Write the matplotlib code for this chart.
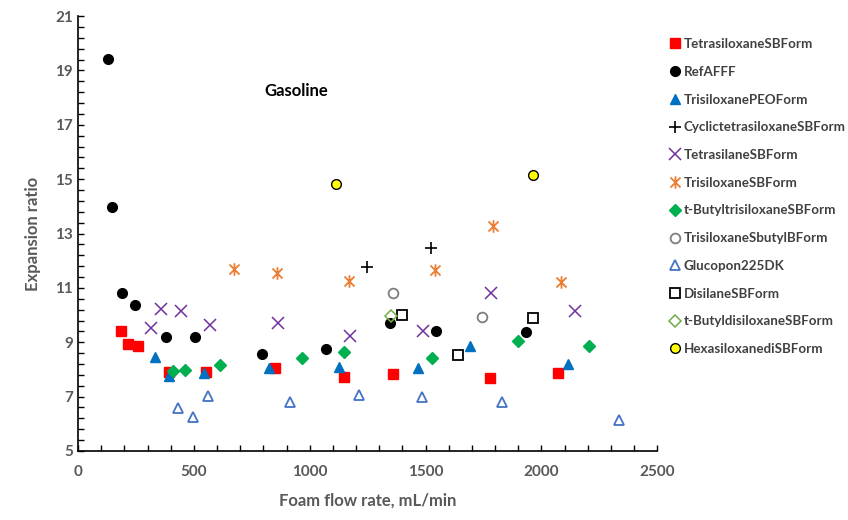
import matplotlib
matplotlib.use("Agg")
import numpy as np
import matplotlib.pyplot as plt
from matplotlib.path import Path
from matplotlib.ticker import MultipleLocator

plt.rcParams['font.family'] = ['Lato', 'DejaVu Sans']

# data
tetrasiloxane_x = [186, 217, 258, 394, 553, 851, 1147, 1361, 1779, 2070]
tetrasiloxane_y = [9.42, 8.92, 8.87, 7.92, 7.89, 8.04, 7.73, 7.82, 7.67, 7.88]
refafff_x = [128, 148, 189, 248, 381, 507, 795, 1069, 1347, 1547, 1934]
refafff_y = [19.41, 13.96, 10.80, 10.38, 9.18, 9.20, 8.55, 8.75, 9.69, 9.41, 9.39]
peo_x = [331, 392, 545, 826, 1127, 1469, 1693, 2113]
peo_y = [8.44, 7.77, 7.88, 8.06, 8.08, 8.05, 8.85, 8.19]
cyclic_x = [1249, 1523]
cyclic_y = [11.78, 12.46]
tetrasilane_x = [317, 360, 443, 570, 862, 1172, 1491, 1782, 2145]
tetrasilane_y = [9.53, 10.21, 10.15, 9.63, 9.69, 9.23, 9.42, 10.83, 10.15]
trisiloxane_x = [675, 858, 1169, 1543, 1792, 2084]
trisiloxane_y = [11.70, 11.53, 11.26, 11.65, 13.26, 11.21]
tbutyltri_x = [409, 463, 613, 967, 1149, 1527, 1899, 2205]
tbutyltri_y = [7.95, 7.99, 8.17, 8.41, 8.63, 8.43, 9.04, 8.86]
sbutyl_x = [1361, 1743]
sbutyl_y = [10.83, 9.94]
glucopon_x = [432, 495, 561, 914, 1213, 1484, 1831, 2333]
glucopon_y = [6.57, 6.26, 7.03, 6.81, 7.06, 7.00, 6.81, 6.13]
disilane_x = [1398, 1641, 1962]
disilane_y = [10.0, 8.52, 9.88]
tbutyldi_x = [1351]
tbutyldi_y = [9.97]
hexa_x = [1115, 1966]
hexa_y = [14.83, 15.17]

y_ticks = [5, 7, 9, 11, 13, 15, 17, 19, 21]

# x with a vertical stroke, like Excel's star marker
star_mark = Path([(0, -1), (0, 1), (-0.8, -0.8), (0.8, 0.8), (-0.8, 0.8), (0.8, -0.8)],
                 [Path.MOVETO, Path.LINETO] * 3)

series = [
    ("TetrasiloxaneSBForm", tetrasiloxane_x, tetrasiloxane_y, dict(marker='s', color='#ff0000', mec='#ff0000')),
    ("RefAFFF", refafff_x, refafff_y, dict(marker='o', color='black', mec='black')),
    ("TrisiloxanePEOForm", peo_x, peo_y, dict(marker='^', color='#0070c0', mec='#0070c0')),
    ("CyclictetrasiloxaneSBForm", cyclic_x, cyclic_y, dict(marker='+', color='black', mew=1.2, ms=9)),
    ("TetrasilaneSBForm", tetrasilane_x, tetrasilane_y, dict(marker='x', color='#7030a0', mew=1.1, ms=8)),
    ("TrisiloxaneSBForm", trisiloxane_x, trisiloxane_y, dict(marker=star_mark, color='#ed7d31', mew=1.3, ms=9)),
    ("t-ButyltrisiloxaneSBForm", tbutyltri_x, tbutyltri_y, dict(marker='D', color='#00b050', mec='#00b050', ms=6)),
    ("TrisiloxaneSbutylBForm", sbutyl_x, sbutyl_y, dict(marker='o', mfc='none', mec='#7f7f7f', mew=1.3)),
    ("Glucopon225DK", glucopon_x, glucopon_y, dict(marker='^', mfc='none', mec='#4472c4', mew=1.3)),
    ("DisilaneSBForm", disilane_x, disilane_y, dict(marker='s', mfc='none', mec='black', mew=1.3)),
    ("t-ButyldisiloxaneSBForm", tbutyldi_x, tbutyldi_y, dict(marker='D', mfc='none', mec='#70ad47', mew=1.1, ms=6)),
    ("HexasiloxanediSBForm", hexa_x, hexa_y, dict(marker='o', mfc='#ffff00', mec='black', mew=1.0)),
]

fig = plt.figure(figsize=(8.48, 5.2), dpi=100)
ax = fig.add_axes([0.092, 0.1327, 0.683, 0.8365])

for name, xs, ys, st in series:
    kw = dict(ls='none', ms=7)
    kw.update(st)
    ax.plot(xs, ys, label=name, **kw)

ax.set_xlim(0, 2500)
ax.set_ylim(5, 21)
ax.xaxis.set_major_locator(MultipleLocator(500))
ax.xaxis.set_minor_locator(MultipleLocator(100))
ax.set_yticks(y_ticks)
ax.set_yticks(np.arange(5, 21.01, 0.4), minor=True)
ax.tick_params(which='both', direction='in', length=4, width=1, colors='black',
               labelcolor='#595959', labelsize=11)
ax.tick_params(axis='x', pad=10)
ax.spines['top'].set_visible(False)
ax.spines['right'].set_visible(False)
for s in ('left', 'bottom'):
    ax.spines[s].set_linewidth(1.2)
for lab in ax.get_xticklabels() + ax.get_yticklabels():
    lab.set_fontweight('bold')

ax.set_xlabel("Foam flow rate, mL/min", fontsize=12, fontweight='bold', color='#595959', labelpad=10)
ax.set_ylabel("Expansion ratio", fontsize=12, fontweight='bold', color='#595959', labelpad=10)
ax.text(940, 18.25, "Gasoline", fontsize=12, fontweight='bold', color='black', ha='center', va='center')

leg = fig.legend(loc='upper left', bbox_to_anchor=(0.783, 0.937), frameon=False,
                 labelspacing=1.18, handlelength=0.8, handletextpad=0.3,
                 borderaxespad=0, prop={'weight': 'bold', 'size': 9.6})
for t in leg.get_texts():
    t.set_color('#404040')

fig.savefig("out.png", dpi=100)
